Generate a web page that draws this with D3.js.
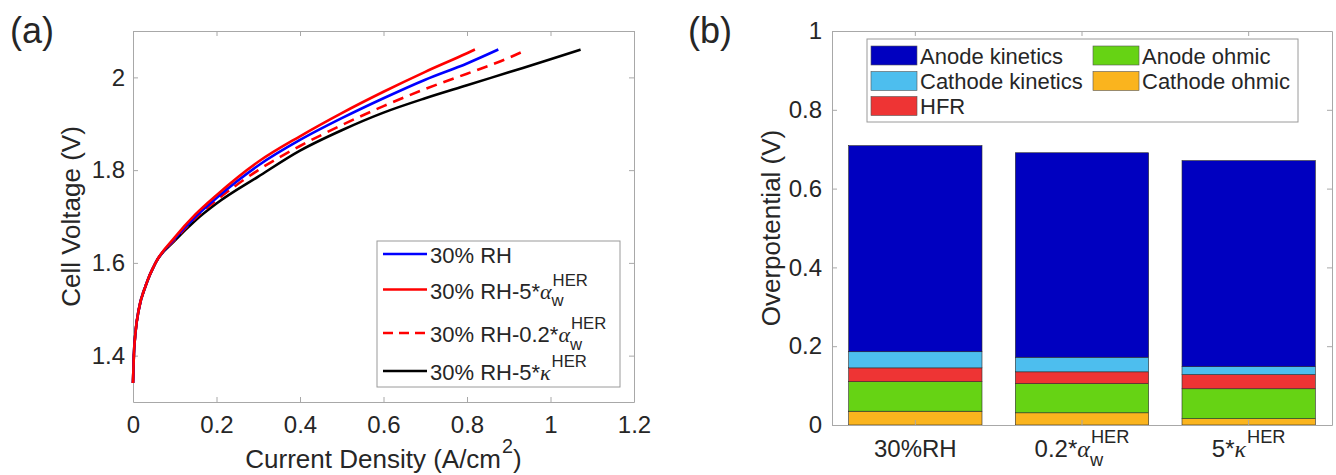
<!DOCTYPE html>
<html>
<head>
  <title>Polarization curves and overpotential breakdown</title>
  <script src="https://cdn.jsdelivr.net/npm/d3@7"></script>
  <style>
    body { margin: 0; background: #fff; }
    svg { font-family: "Liberation Sans", Arial, sans-serif; }
    text { fill: #262626; }
  </style>
</head>
<body>
  <div id="chart"></div>
  <script>
    // (a) polarization curves, current density (A/cm2) vs cell voltage (V)
    const rhJ = [0, 0.002, 0.006, 0.014, 0.03, 0.054, 0.1, 0.15, 0.2, 0.3, 0.4, 0.5, 0.6, 0.7, 0.8, 0.875];
    const rhV = [1.341, 1.40, 1.45, 1.50, 1.55, 1.60, 1.652, 1.700, 1.740, 1.810, 1.865, 1.912, 1.955, 1.995, 2.030, 2.060];
    const alpha5J = [0, 0.002, 0.006, 0.014, 0.03, 0.054, 0.1, 0.15, 0.2, 0.3, 0.4, 0.5, 0.6, 0.7, 0.8, 0.819];
    const alpha5V = [1.341, 1.40, 1.45, 1.50, 1.55, 1.60, 1.655, 1.705, 1.746, 1.818, 1.873, 1.923, 1.969, 2.012, 2.052, 2.060];
    const alpha02J = [0, 0.002, 0.006, 0.014, 0.03, 0.054, 0.1, 0.15, 0.2, 0.3, 0.4, 0.5, 0.6, 0.7, 0.8, 0.9, 0.944];
    const alpha02V = [1.341, 1.40, 1.45, 1.50, 1.55, 1.60, 1.650, 1.697, 1.735, 1.800, 1.852, 1.897, 1.938, 1.975, 2.008, 2.042, 2.060];
    const kappa5J = [0, 0.002, 0.006, 0.014, 0.03, 0.054, 0.1, 0.15, 0.2, 0.3, 0.4, 0.5, 0.6, 0.7, 0.8, 0.9, 1.0, 1.072];
    const kappa5V = [1.341, 1.40, 1.45, 1.50, 1.55, 1.60, 1.648, 1.692, 1.728, 1.786, 1.842, 1.886, 1.924, 1.955, 1.983, 2.011, 2.039, 2.060];

    const xTicksA = [0, 0.2, 0.4, 0.6, 0.8, 1, 1.2];
    const yTicksA = [1.4, 1.6, 1.8, 2];

    // (b) overpotential breakdown (V), stacked bottom to top
    const categories = ["30%RH", "0.2*alpha_w", "5*kappa"];
    const cathodeOhmic = [0.035, 0.031, 0.016];
    const anodeOhmic = [0.075, 0.074, 0.076];
    const hfr = [0.035, 0.030, 0.036];
    const cathodeKinetics = [0.041, 0.037, 0.020];
    const anodeKinetics = [0.523, 0.519, 0.523];
    const yTicksB = [0, 0.2, 0.4, 0.6, 0.8, 1];

    const series = [
      {label: {pre: "30% RH"}, j: rhJ, v: rhV, color: "#0000ff", dash: null},
      {label: {pre: "30% RH-5*", greek: "α", sub: "w", sup: "HER"}, j: alpha5J, v: alpha5V, color: "#ff0000", dash: null},
      {label: {pre: "30% RH-0.2*", greek: "α", sub: "w", sup: "HER"}, j: alpha02J, v: alpha02V, color: "#ff0000", dash: "11,7"},
      {label: {pre: "30% RH-5*", greek: "κ", sup: "HER"}, j: kappa5J, v: kappa5V, color: "#000000", dash: null}
    ];

    const catLabels = [
      {pre: "30%RH"},
      {pre: "0.2*", greek: "α", sub: "w", sup: "HER"},
      {pre: "5*", greek: "κ", sup: "HER"}
    ];

    const components = [
      {key: "Cathode ohmic", values: cathodeOhmic, color: "#fab41e"},
      {key: "Anode ohmic", values: anodeOhmic, color: "#66d314"},
      {key: "HFR", values: hfr, color: "#ee3434"},
      {key: "Cathode kinetics", values: cathodeKinetics, color: "#4dbeee"},
      {key: "Anode kinetics", values: anodeKinetics, color: "#0000c0"}
    ];
    // legend reads row-wise in two columns
    const legendOrderB = ["Anode kinetics", "Anode ohmic", "Cathode kinetics", "Cathode ohmic", "HFR"];

    const W = 1336, H = 475;
    const axisColor = "#a8a8a8";
    const svg = d3.select("#chart").append("svg")
      .attr("width", W).attr("height", H);

    // text with optional italic greek letter, stacked sub/superscript and tail
    function mathText(parent, x, y, spec, size, anchor) {
      const g = parent.append("g");
      const t = g.append("text").attr("font-size", size);
      t.append("tspan").text(spec.pre);
      if (spec.greek) {
        t.append("tspan")
          .attr("font-family", "'Liberation Serif', serif")
          .attr("font-style", "italic")
          .text(spec.greek);
      }
      let w = t.node().getComputedTextLength();
      let extra = 0;
      const small = size * 0.76;
      if (spec.sub) {
        const s = g.append("text").attr("x", w).attr("y", size * 0.36)
          .attr("font-size", small).text(spec.sub);
        extra = Math.max(extra, s.node().getComputedTextLength());
      }
      if (spec.sup) {
        const s = g.append("text").attr("x", w + 1).attr("y", -size * 0.58)
          .attr("font-size", small).text(spec.sup);
        extra = Math.max(extra, s.node().getComputedTextLength() + 1);
      }
      w += extra;
      if (spec.post) {
        const p = g.append("text").attr("x", w).attr("font-size", size).text(spec.post);
        w += p.node().getComputedTextLength();
      }
      const dx = anchor === "middle" ? -w / 2 : 0;
      g.attr("transform", `translate(${x + dx},${y})`);
      return g;
    }

    function styleAxis(g, size) {
      g.attr("font-family", null).attr("font-size", size);
      g.selectAll(".domain").attr("stroke", axisColor);
      g.selectAll(".tick line").attr("stroke", axisColor);
      g.selectAll(".tick text").attr("fill", "#262626");
    }

    // ---------- panel (a) ----------
    const xA = d3.scaleLinear().domain([0, 1.2]).range([133, 634]);
    const yA = d3.scaleLinear().domain([1.3, 2.1]).range([402, 31]);

    svg.append("g").attr("transform", `translate(0,${yA.range()[0]})`)
      .call(d3.axisBottom(xA).tickValues(xTicksA).tickFormat(d3.format("~g"))
        .tickSizeInner(-5).tickSizeOuter(0).tickPadding(14))
      .call(g => styleAxis(g, 24));
    svg.append("g").attr("transform", `translate(0,${yA.range()[1]})`)
      .call(d3.axisTop(xA).tickValues(xTicksA).tickFormat("").tickSizeInner(-5).tickSizeOuter(0))
      .call(g => styleAxis(g, 24));
    svg.append("g").attr("transform", `translate(${xA.range()[0]},0)`)
      .call(d3.axisLeft(yA).tickValues(yTicksA).tickFormat(d3.format("~g"))
        .tickSizeInner(-5).tickSizeOuter(0).tickPadding(8))
      .call(g => styleAxis(g, 24));
    svg.append("g").attr("transform", `translate(${xA.range()[1]},0)`)
      .call(d3.axisRight(yA).tickValues(yTicksA).tickFormat("").tickSizeInner(-5).tickSizeOuter(0))
      .call(g => styleAxis(g, 24));

    const line = d3.line()
      .x(d => xA(d[0]))
      .y(d => yA(d[1]))
      .curve(d3.curveMonotoneX);

    // draw black first so coloured curves sit on top at the shared low end
    [3, 2, 0, 1].forEach(i => {
      const s = series[i];
      svg.append("path")
        .datum(d3.zip(s.j, s.v))
        .attr("fill", "none")
        .attr("stroke", s.color)
        .attr("stroke-width", 2.6)
        .attr("stroke-dasharray", s.dash)
        .attr("d", line);
    });

    // legend (a)
    const legA = svg.append("g");
    legA.append("rect").attr("x", 377).attr("y", 241).attr("width", 243).attr("height", 146)
      .attr("fill", "#fff").attr("stroke", "#9a9a9a").attr("stroke-width", 1);
    const rowLineY = [254, 289.5, 333, 371];
    series.forEach((s, i) => {
      legA.append("line")
        .attr("x1", 383).attr("x2", 427)
        .attr("y1", rowLineY[i]).attr("y2", rowLineY[i])
        .attr("stroke", s.color).attr("stroke-width", 2.6)
        .attr("stroke-dasharray", s.dash ? "10,6" : null);
      mathText(legA, 430, rowLineY[i] + 9, s.label, 22, "start");
    });

    mathText(svg, (xA.range()[0] + xA.range()[1]) / 2, 468,
      {pre: "Current Density (A/cm", sup: "2", post: ")"}, 26, "middle");
    svg.append("text")
      .attr("transform", `translate(80,${(yA.range()[0] + yA.range()[1]) / 2}) rotate(-90)`)
      .attr("text-anchor", "middle").attr("font-size", 26)
      .text("Cell Voltage (V)");
    svg.append("text").attr("x", 10).attr("y", 43).attr("font-size", 36).text("(a)");

    // ---------- panel (b) ----------
    const xB = d3.scaleBand().domain(categories).range([832, 1332])
      .paddingInner(0.2).paddingOuter(0.1);
    const yB = d3.scaleLinear().domain([0, 1]).range([425, 31]);

    const rows = categories.map((c, i) => {
      const r = {cat: c};
      components.forEach(comp => { r[comp.key] = comp.values[i]; });
      return r;
    });
    const stacked = d3.stack().keys(components.map(c => c.key))(rows);
    const colorOf = new Map(components.map(c => [c.key, c.color]));

    svg.append("g").selectAll("g")
      .data(stacked)
      .join("g")
        .attr("fill", d => colorOf.get(d.key))
      .selectAll("rect")
      .data(d => d)
      .join("rect")
        .attr("x", d => xB(d.data.cat))
        .attr("y", d => yB(d[1]))
        .attr("width", xB.bandwidth())
        .attr("height", d => yB(d[0]) - yB(d[1]))
        .attr("stroke", "#2a2a2a")
        .attr("stroke-width", 0.6);

    svg.append("g").attr("transform", `translate(0,${yB.range()[0]})`)
      .call(d3.axisBottom(xB).tickFormat("").tickSizeInner(-5).tickSizeOuter(0))
      .call(g => styleAxis(g, 24));
    svg.append("g").attr("transform", `translate(0,${yB.range()[1]})`)
      .call(d3.axisTop(xB).tickFormat("").tickSizeInner(-5).tickSizeOuter(0))
      .call(g => styleAxis(g, 24));
    svg.append("g").attr("transform", `translate(${xB.range()[0]},0)`)
      .call(d3.axisLeft(yB).tickValues(yTicksB).tickFormat(d3.format("~g"))
        .tickSizeInner(-5).tickSizeOuter(0).tickPadding(10))
      .call(g => styleAxis(g, 24));
    svg.append("g").attr("transform", `translate(${xB.range()[1]},0)`)
      .call(d3.axisRight(yB).tickValues(yTicksB).tickFormat("").tickSizeInner(-5).tickSizeOuter(0))
      .call(g => styleAxis(g, 24));

    categories.forEach((c, i) => {
      mathText(svg, xB(c) + xB.bandwidth() / 2, yB.range()[0] + 32, catLabels[i], 24, "middle");
    });

    // legend (b)
    const legB = svg.append("g");
    legB.append("rect").attr("x", 867).attr("y", 39).attr("width", 431).attr("height", 83)
      .attr("fill", "#fff").attr("stroke", "#9a9a9a").attr("stroke-width", 1);
    const colX = [871, 1093];
    const rowY = [55.5, 81, 106];
    legendOrderB.forEach((key, i) => {
      const cx = colX[i % 2], cy = rowY[Math.floor(i / 2)];
      legB.append("rect")
        .attr("x", cx).attr("y", cy - 9.5).attr("width", 46).attr("height", 19)
        .attr("fill", colorOf.get(key)).attr("stroke", "#555").attr("stroke-width", 0.6);
      legB.append("text").attr("x", cx + 49).attr("y", cy + 8)
        .attr("font-size", 22).text(key);
    });

    svg.append("text")
      .attr("transform", `translate(780,${(yB.range()[0] + yB.range()[1]) / 2}) rotate(-90)`)
      .attr("text-anchor", "middle").attr("font-size", 26)
      .text("Overpotential (V)");
    svg.append("text").attr("x", 688).attr("y", 43).attr("font-size", 36).text("(b)");
  </script>
</body>
</html>
